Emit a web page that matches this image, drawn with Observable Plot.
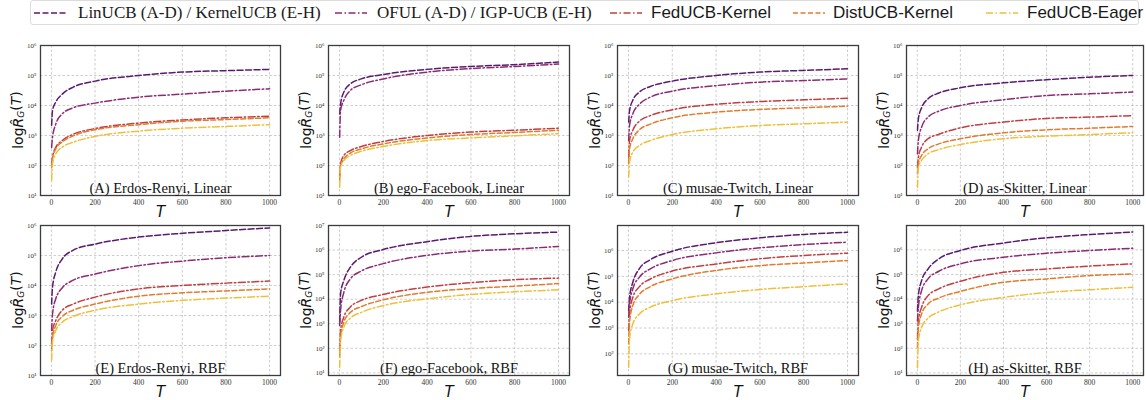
<!DOCTYPE html>
<html><head><meta charset="utf-8">
<script src="https://cdn.jsdelivr.net/npm/d3@7"></script>
<script src="https://cdn.jsdelivr.net/npm/@observablehq/plot@0.6"></script>
<style>
body{margin:0;background:#fff;}
#root{position:relative;width:1146px;height:400px;overflow:hidden;background:#fff;}
.panel{position:absolute;}
#legend{position:absolute;left:30px;top:0;width:1109px;height:25px;border:1px solid #dcdcdc;border-radius:3px;box-sizing:border-box;}
.lg{position:absolute;top:0;height:23px;line-height:23px;white-space:nowrap;color:#1a1a1a;}
.serif{font-family:"Liberation Serif",serif;font-size:17px;}
.sans{font-family:"Liberation Sans",Arial,sans-serif;font-size:17px;}
.lgline{position:absolute;top:7px;}
</style></head><body><div id="root"><div id="legend"></div></div>
<script>
// ---- data ----
const T = [1, 5, 20, 50, 100, 200, 400, 600, 800, 1000];
const xTicks = [0, 200, 400, 600, 800, 1000];
const seriesNames = ["LinUCB (A-D) / KernelUCB (E-H)", "OFUL (A-D) / IGP-UCB (E-H)", "FedUCB-Kernel", "DistUCB-Kernel", "FedUCB-Eager"];
const panelTitles = ["(A) Erdos-Renyi, Linear", "(B) ego-Facebook, Linear", "(C) musae-Twitch, Linear", "(D) as-Skitter, Linear",
                     "(E) Erdos-Renyi, RBF", "(F) ego-Facebook, RBF", "(G) musae-Twitch, RBF", "(H) as-Skitter, RBF"];
const yExpA = [1, 2, 3, 4, 5, 6];
const yExpF = [1, 2, 3, 4, 5, 6, 7];
const yExpG = [2, 3, 4, 5, 6];
const yExpH = [1, 2, 3, 4, 5, 6];

const A_lin  = [2200, 6800, 13000, 24000, 41000, 65000, 100000, 130000, 145000, 160000];
const A_oful = [400, 880, 2400, 5300, 8400, 12000, 19000, 24000, 30000, 36000];
const A_fedk = [110, 190, 400, 680, 1100, 1700, 2600, 3300, 3900, 4400];
const A_dist = [88, 170, 360, 610, 980, 1550, 2300, 3000, 3400, 3900];
const A_eag  = [32, 114, 245, 410, 600, 930, 1400, 1750, 2000, 2300];

const B_lin  = [5300, 11000, 28000, 53000, 77000, 108000, 160000, 200000, 230000, 280000];
const B_oful = [880, 6800, 15000, 32000, 49000, 77000, 130000, 170000, 200000, 240000];
const B_fedk = [41, 114, 215, 315, 430, 630, 1000, 1300, 1500, 1750];
const B_dist = [32, 100, 165, 260, 360, 525, 830, 1080, 1260, 1500];
const B_eag  = [19, 88, 147, 215, 300, 430, 680, 830, 980, 1150];

const C_lin  = [2800, 6800, 15000, 28000, 43000, 65000, 100000, 130000, 148000, 167000];
const C_oful = [680, 2200, 5300, 11000, 19000, 30000, 46000, 60000, 68000, 77000];
const C_fedk = [190, 680, 1500, 3000, 4600, 7200, 11000, 13500, 15500, 17500];
const C_dist = [114, 360, 780, 1550, 2400, 3900, 6000, 7400, 8400, 9500];
const C_eag  = [41, 130, 280, 465, 680, 1080, 1670, 2150, 2450, 2800];

const D_lin  = [1500, 3600, 8400, 16700, 26000, 39000, 57000, 72000, 88000, 100000];
const D_oful = [245, 680, 1900, 4100, 6500, 10000, 15500, 21500, 24500, 28000];
const D_fedk = [88, 190, 410, 780, 1100, 1800, 2800, 3700, 4100, 4600];
const D_dist = [53, 114, 215, 360, 525, 780, 1230, 1550, 1750, 2000];
const D_eag  = [19, 88, 147, 245, 340, 500, 780, 950, 1080, 1230];

const E_lin  = [2400, 8800, 28000, 77000, 150000, 240000, 410000, 550000, 680000, 830000];
const E_oful = [315, 1100, 3600, 8400, 15000, 24000, 46000, 65000, 84000, 100000];
const E_fedk = [114, 315, 680, 1500, 2400, 4100, 7700, 10000, 12000, 14000];
const E_dist = [68, 190, 465, 930, 1500, 2400, 4400, 5700, 6600, 7700];
const E_eag  = [32, 130, 315, 600, 930, 1500, 2400, 3200, 3800, 4400];

const F_lin  = [1200, 16500, 58000, 200000, 510000, 1050000, 2200000, 3600000, 4600000, 5400000];
const F_oful = [850, 3500, 19000, 67000, 140000, 280000, 610000, 910000, 1100000, 1400000];
const F_fedk = [82, 540, 1870, 4800, 8900, 15600, 31000, 47000, 62000, 72000];
const F_dist = [44, 285, 1170, 2900, 5000, 9400, 19000, 27000, 34000, 43000];
const F_eag  = [17, 210, 730, 1700, 2900, 5500, 10300, 15600, 20000, 24000];

const G_lin  = [4800, 15500, 59000, 200000, 440000, 940000, 2000000, 3100000, 4200000, 5100000];
const G_oful = [2600, 8700, 33000, 93000, 195000, 410000, 810000, 1270000, 1700000, 2100000];
const G_fedk = [800, 3500, 15500, 40000, 79000, 160000, 300000, 480000, 640000, 790000];
const G_dist = [245, 1700, 7500, 20000, 40000, 80000, 170000, 260000, 330000, 410000];
const G_eag  = [30, 380, 1450, 3500, 6400, 11500, 21000, 31000, 40000, 51000];

const H_lin  = [3300, 13800, 56000, 167000, 430000, 940000, 1900000, 3100000, 4200000, 5300000];
const H_oful = [1300, 4600, 22000, 66000, 135000, 270000, 500000, 730000, 940000, 1170000];
const H_fedk = [235, 1300, 4600, 13800, 26000, 53000, 122000, 167000, 220000, 270000];
const H_dist = [107, 700, 2500, 6300, 11000, 20500, 48000, 66000, 90000, 105000];
const H_eag  = [16, 200, 700, 1670, 3000, 5800, 11700, 18500, 24000, 30000];

// ---- styles ----
const colors = ["#5a1a70", "#8c2b73", "#c23e41", "#e27b2d", "#f0bf3a"];
const dashes = ["6,2.5", "7,2.5,1.5,2.5", "7,2.5,1.5,2.5", "5,2.5", "7,2.5,1.5,2.5"];

const panels = [
  {vals: [A_lin, A_oful, A_fedk, A_dist, A_eag], ydom: [10, 1e6], yexp: yExpA, left: 40, top: 45, w: 240},
  {vals: [B_lin, B_oful, B_fedk, B_dist, B_eag], ydom: [10, 1e6], yexp: yExpA, left: 328, top: 45, w: 241},
  {vals: [C_lin, C_oful, C_fedk, C_dist, C_eag], ydom: [10, 1e6], yexp: yExpA, left: 617, top: 45, w: 241},
  {vals: [D_lin, D_oful, D_fedk, D_dist, D_eag], ydom: [10, 1e6], yexp: yExpA, left: 906, top: 45, w: 237},
  {vals: [E_lin, E_oful, E_fedk, E_dist, E_eag], ydom: [10, 1e6], yexp: yExpA, left: 40, top: 225, w: 240},
  {vals: [F_lin, F_oful, F_fedk, F_dist, F_eag], ydom: [7.8, 1e7], yexp: yExpF, left: 328, top: 225, w: 241},
  {vals: [G_lin, G_oful, G_fedk, G_dist, G_eag], ydom: [14.5, 9.3e6], yexp: yExpG, left: 617, top: 225, w: 241},
  {vals: [H_lin, H_oful, H_fedk, H_dist, H_eag], ydom: [7.8, 9.8e6], yexp: yExpH, left: 906, top: 225, w: 237}
];

const sup = {"0":"⁰","1":"¹","2":"²","3":"³","4":"⁴","5":"⁵","6":"⁶","7":"⁷","8":"⁸","9":"⁹"};
const fmt = d => "10" + String(Math.round(Math.log10(d))).split("").map(c => sup[c]).join("");

const root = document.getElementById("root");
const ML = 30, MR = 5, MT = 5, MB = 30, PH = 150;

panels.forEach((p, i) => {
  const yTicks = p.yexp.map(e => Math.pow(10, e));
  const lines = p.vals.map((arr, s) => {
    const rows = T.map((t, k) => ({T: t, v: arr[k]}));
    return Plot.line(rows, {x: "T", y: "v", stroke: colors[s], strokeWidth: 1.5,
      strokeDasharray: dashes[s], curve: "monotone-x"});
  });
  const svg = Plot.plot({
    width: ML + p.w + MR, height: MT + PH + MB,
    marginLeft: ML, marginRight: MR, marginTop: MT, marginBottom: MB,
    style: {fontFamily: "Liberation Serif", background: "transparent", overflow: "visible"},
    x: {domain: [-50, 1050], axis: null},
    y: {type: "log", domain: p.ydom, axis: null},
    marks: [
      Plot.gridX({ticks: xTicks, stroke: "#b8b8b8", strokeOpacity: 1, strokeWidth: 0.7, strokeDasharray: "2.5,2"}),
      Plot.gridY({ticks: yTicks, stroke: "#b8b8b8", strokeOpacity: 1, strokeWidth: 0.7, strokeDasharray: "2.5,2"}),
      ...lines,
      Plot.frame({stroke: "#3c3c3c", strokeWidth: 1.3}),
      Plot.axisX({ticks: xTicks, tickSize: 0, tickPadding: 4, fontSize: 7.5, fill: "#333", label: null, tickFormat: d => String(d)}),
      Plot.axisY({ticks: yTicks, tickSize: 0, tickPadding: 4, fontSize: 7, fill: "#333", label: null, tickFormat: fmt}),
      Plot.text([panelTitles[i]], {text: d => d, frameAnchor: "bottom", dy: -3, lineAnchor: "bottom",
        fontFamily: "Liberation Serif", fontSize: 14.5, fill: "#111"}),
      Plot.text(["T"], {text: d => d, frameAnchor: "bottom", dy: 17, lineAnchor: "middle",
        fontFamily: "DejaVu Sans", fontStyle: "italic", fontSize: 15, fill: "#111"})
    ]
  });
  svg.classList.add("panel");
  svg.style.left = (p.left - ML) + "px";
  svg.style.top = (p.top - MT) + "px";
  const lab = d3.select(svg).append("text")
    .attr("transform", `translate(${ML - 22},${MT + PH / 2}) rotate(-90)`)
    .attr("text-anchor", "middle").attr("dominant-baseline", "central")
    .style("font-family", "DejaVu Sans").style("font-size", "14px").attr("fill", "#111");
  lab.append("tspan").text("log");
  lab.append("tspan").attr("font-style", "italic").text("R\u0302");
  lab.append("tspan").attr("font-style", "italic").attr("font-size", "9px").attr("dy", "0.35em").text("G");
  lab.append("tspan").attr("dy", "-0.35em").text("(");
  lab.append("tspan").attr("font-style", "italic").text("T");
  lab.append("tspan").text(")");
  root.appendChild(svg);
});

// ---- legend ----
const legend = document.getElementById("legend");
const lineX = [3, 304, 579, 762, 955];
const textX = [47, 346, 620, 802, 996];
const fontCls = ["serif", "serif", "sans", "sans", "sans"];
seriesNames.forEach((name, s) => {
  const ls = d3.create("svg").attr("class", "lgline").attr("width", 32).attr("height", 10)
    .style("left", lineX[s] + "px");
  ls.append("line").attr("x1", 0).attr("x2", 32).attr("y1", 5).attr("y2", 5)
    .attr("stroke", colors[s]).attr("stroke-width", 1.5).attr("stroke-dasharray", dashes[s]);
  legend.appendChild(ls.node());
  const sp = document.createElement("span");
  sp.className = "lg " + fontCls[s];
  sp.style.left = textX[s] + "px";
  sp.textContent = name;
  legend.appendChild(sp);
});
</script>
</body></html>
